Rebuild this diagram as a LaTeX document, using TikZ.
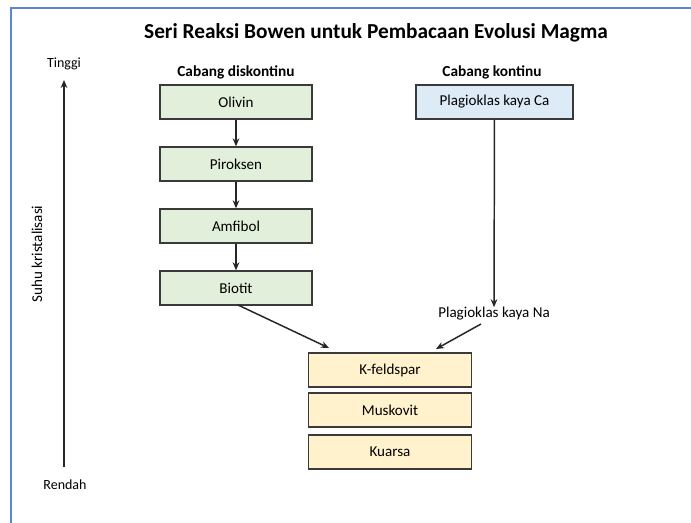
\documentclass[tikz,border=0pt]{standalone}
\usepackage{fontspec}
\setmainfont{Carlito}
\usetikzlibrary{arrows.meta}
\definecolor{frameblue}{HTML}{5B86D6}
\definecolor{gfill}{HTML}{E2EFDA}
\definecolor{bfill}{HTML}{DDEBF7}
\definecolor{yfill}{HTML}{FFF2CC}
\definecolor{edge}{HTML}{3A3A3A}
\tikzset{
  mbox/.style={draw=edge, line width=1pt, minimum width=152*0.75pt, minimum height=34*0.75pt, inner sep=0pt, font=\fontsize{11.3pt}{13pt}\selectfont},
  gbox/.style={mbox, fill=gfill},
  bbox/.style={mbox, fill=bfill, minimum width=157*0.75pt},
  ybox/.style={mbox, fill=yfill, minimum width=163*0.75pt},
  lbl/.style={inner sep=0pt, font=\fontsize{11.3pt}{13pt}\selectfont},
  axl/.style={inner sep=0pt, font=\fontsize{10.5pt}{12pt}\selectfont},
  hdr/.style={inner sep=0pt, font=\fontsize{11.5pt}{13pt}\selectfont\bfseries},
  conn/.style={draw=black!85, line width=1.1pt, -{Stealth[length=6pt,width=5pt]}}
}
\begin{document}
\begin{tikzpicture}[x=0.75pt,y=-0.75pt]
\useasboundingbox (0,0) rectangle (691,523);
\fill[white] (0,0) rectangle (691,523);
% frame
\draw[frameblue, line width=1.5pt] (11,523) -- (11,8) -- (691,8);
% title
\node[inner sep=0pt, font=\fontsize{16pt}{18pt}\selectfont\bfseries] (title) at (376,33) {Seri Reaksi Bowen untuk Pembacaan Evolusi Magma};
% axis
\node[axl] (hi) at (64,64) {Tinggi};
\node[axl] (lo) at (65,485) {Rendah};
\coordinate (axb) at (64,467);
\coordinate (axt) at (64,80);
\draw[conn] (axb) -- (axt);
\node[lbl, rotate=90] (suhu) at (37,254) {Suhu kristalisasi};
% headers
\node[hdr] (hd) at (236,72) {Cabang diskontinu};
\node[hdr] (hk) at (492,72) {Cabang kontinu};
% discontinuous
\node[gbox] (ol) at (236,102) {Olivin};
\node[gbox] (pi) at (236,164) {Piroksen};
\node[gbox] (am) at (236,226) {Amfibol};
\node[gbox] (bi) at (236,288) {Biotit};
\draw[conn] (ol) -- (pi);
\draw[conn] (pi) -- (am);
\draw[conn] (am) -- (bi);
% continuous
\node[bbox] (ca) at (494.5,102) {Plagioklas kaya Ca};
\node[lbl] (na) at (494,314) {Plagioklas kaya Na};
\draw[conn] (ca) -- (na);
% final
\node[ybox] (kf) at (390,370) {K-feldspar};
\node[ybox] (mu) at (390,410) {Muskovit};
\node[ybox] (ku) at (390,452) {Kuarsa};
\coordinate (bis) at (238,305);
\draw[conn] (bis) -- (329,348);
\coordinate (nas) at (481,324);
\draw[conn] (nas) -- (436,349);
\end{tikzpicture}
\end{document}
